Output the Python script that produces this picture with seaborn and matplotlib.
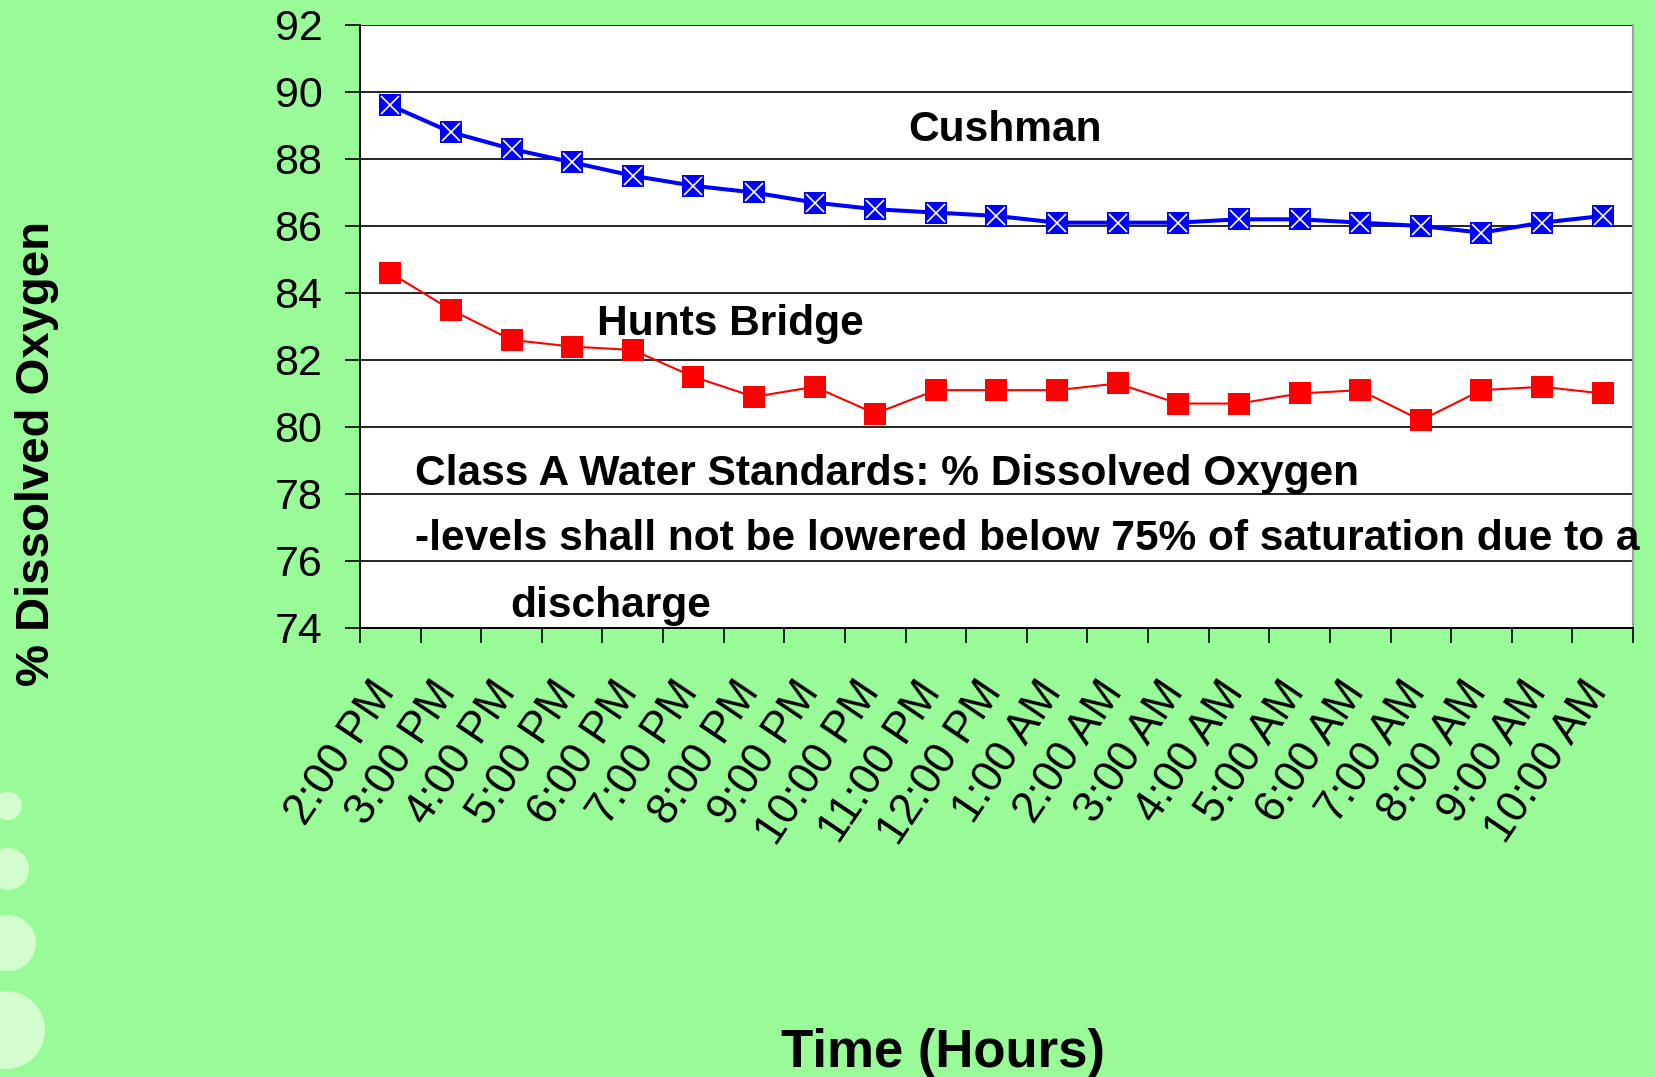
"""Dissolved oxygen over 24 hours: Cushman vs Hunts Bridge."""

import matplotlib
matplotlib.use("Agg")
import matplotlib.pyplot as plt
from matplotlib.patches import Circle
from matplotlib.transforms import ScaledTranslation
import numpy as np
import pandas as pd
import seaborn as sns

sns.set_style("white")
plt.rcParams["font.family"] = ["Liberation Sans", "DejaVu Sans"]
plt.rcParams["text.color"] = "black"
plt.rcParams["axes.labelcolor"] = "black"
plt.rcParams["xtick.color"] = "black"
plt.rcParams["ytick.color"] = "black"

# data
times = ["2:00 PM", "3:00 PM", "4:00 PM", "5:00 PM", "6:00 PM", "7:00 PM",
         "8:00 PM", "9:00 PM", "10:00 PM", "11:00 PM", "12:00 PM", "1:00 AM",
         "2:00 AM", "3:00 AM", "4:00 AM", "5:00 AM", "6:00 AM", "7:00 AM",
         "8:00 AM", "9:00 AM", "10:00 AM"]
cushman = [89.6, 88.8, 88.3, 87.9, 87.5, 87.2, 87.0, 86.7, 86.5, 86.4, 86.3,
           86.1, 86.1, 86.1, 86.2, 86.2, 86.1, 86.0, 85.8, 86.1, 86.3]
hunts_bridge = [84.6, 83.5, 82.6, 82.4, 82.3, 81.5, 80.9, 81.2, 80.4, 81.1, 81.1,
                81.1, 81.3, 80.7, 80.7, 81.0, 81.1, 80.2, 81.1, 81.2, 81.0]
y_ticks = [74, 76, 78, 80, 82, 84, 86, 88, 90, 92]

df = pd.DataFrame({"time": times, "Cushman": cushman, "Hunts Bridge": hunts_bridge})

BG = "#98FB98"
W, H = 1656, 1077

fig = plt.figure(figsize=(W / 100, H / 100), dpi=100, facecolor=BG)

# decorative circles down the left edge
deco = fig.add_axes([0, 0, 1, 1])
deco.set_xlim(0, W)
deco.set_ylim(H, 0)
deco.set_aspect("equal")
deco.axis("off")
for cx, cy, r in [(8, 806, 14), (8, 869, 21), (8, 943, 28), (6, 1030, 39)]:
    deco.add_patch(Circle((cx, cy), r, color="#d2fdcd", lw=0))

ax = fig.add_axes([360 / W, 1 - 628 / H, 1273 / W, 603 / H])
ax.set_facecolor("white")

sns.lineplot(data=df, x="time", y="Cushman", ax=ax, color="#0000ff", lw=2.9,
             marker="s", markersize=16.5, markeredgewidth=0, sort=False)
sns.lineplot(data=df, x="time", y="Cushman", ax=ax, color="#3050ff", lw=0,
             marker="x", markersize=13, markeredgewidth=1.2, sort=False)
sns.lineplot(data=df, x="time", y="Hunts Bridge", ax=ax, color="#ff0000", lw=1.5,
             marker="s", markersize=16.5, markeredgewidth=0, sort=False)

ax.set_xlim(-0.5, len(times) - 0.5)
ax.set_ylim(74, 92)
ax.set_yticks(y_ticks)
ax.yaxis.grid(True, color="black", lw=1.2)
ax.set_axisbelow(True)

# category ticks sit between the points, labels at the points
ax.set_xticks(np.arange(len(times)))
ax.set_xticklabels(times, rotation=56, ha="right", va="baseline",
                   rotation_mode="anchor")
ax.set_xticks(np.arange(len(times) + 1) - 0.5, minor=True)
ax.tick_params(axis="x", which="major", length=0, pad=46, labelsize=31.5)
ax.tick_params(axis="x", which="minor", length=11, width=1.2, color="black",
               direction="out", bottom=True)
ax.tick_params(axis="y", length=11, width=1.2, color="black", direction="out",
               left=True, pad=16, labelsize=31)
# nudge the slanted labels a little to the right
shift = ScaledTranslation(6 / 100, 0, fig.dpi_scale_trans)
for lbl in ax.get_xticklabels():
    lbl.set_transform(lbl.get_transform() + shift)

for side in ["left", "bottom"]:
    ax.spines[side].set_color("black")
    ax.spines[side].set_linewidth(1.4)
ax.spines["top"].set_visible(False)
ax.spines["right"].set_color("#a0a0a0")
ax.spines["right"].set_linewidth(1.6)

ax.set_ylabel("% Dissolved Oxygen", fontsize=34, fontweight="bold", va="center")
ax.yaxis.set_label_coords(-0.2537, 0.2886)
ax.set_xlabel("Time (Hours)", fontsize=38, fontweight="bold", va="center")
ax.xaxis.set_label_coords(0.458, -0.704)

txt = dict(transform=ax.transAxes, fontsize=30.6, fontweight="bold",
           ha="left", va="baseline", clip_on=False)
ax.text(0.4305, 0.8076, "Cushman", **txt)
ax.text(0.1862, 0.4859, "Hunts Bridge", **txt)
ax.text(0.0432, 0.2371, "Class A Water Standards: % Dissolved Oxygen", **txt)
ax.text(0.0432, 0.1294,
        "-levels shall not be lowered below 75% of saturation due to a", **txt)
ax.text(0.1178, 0.0182, "discharge", **txt)

fig.savefig("out.png", dpi=100, facecolor=BG)
plt.close(fig)
